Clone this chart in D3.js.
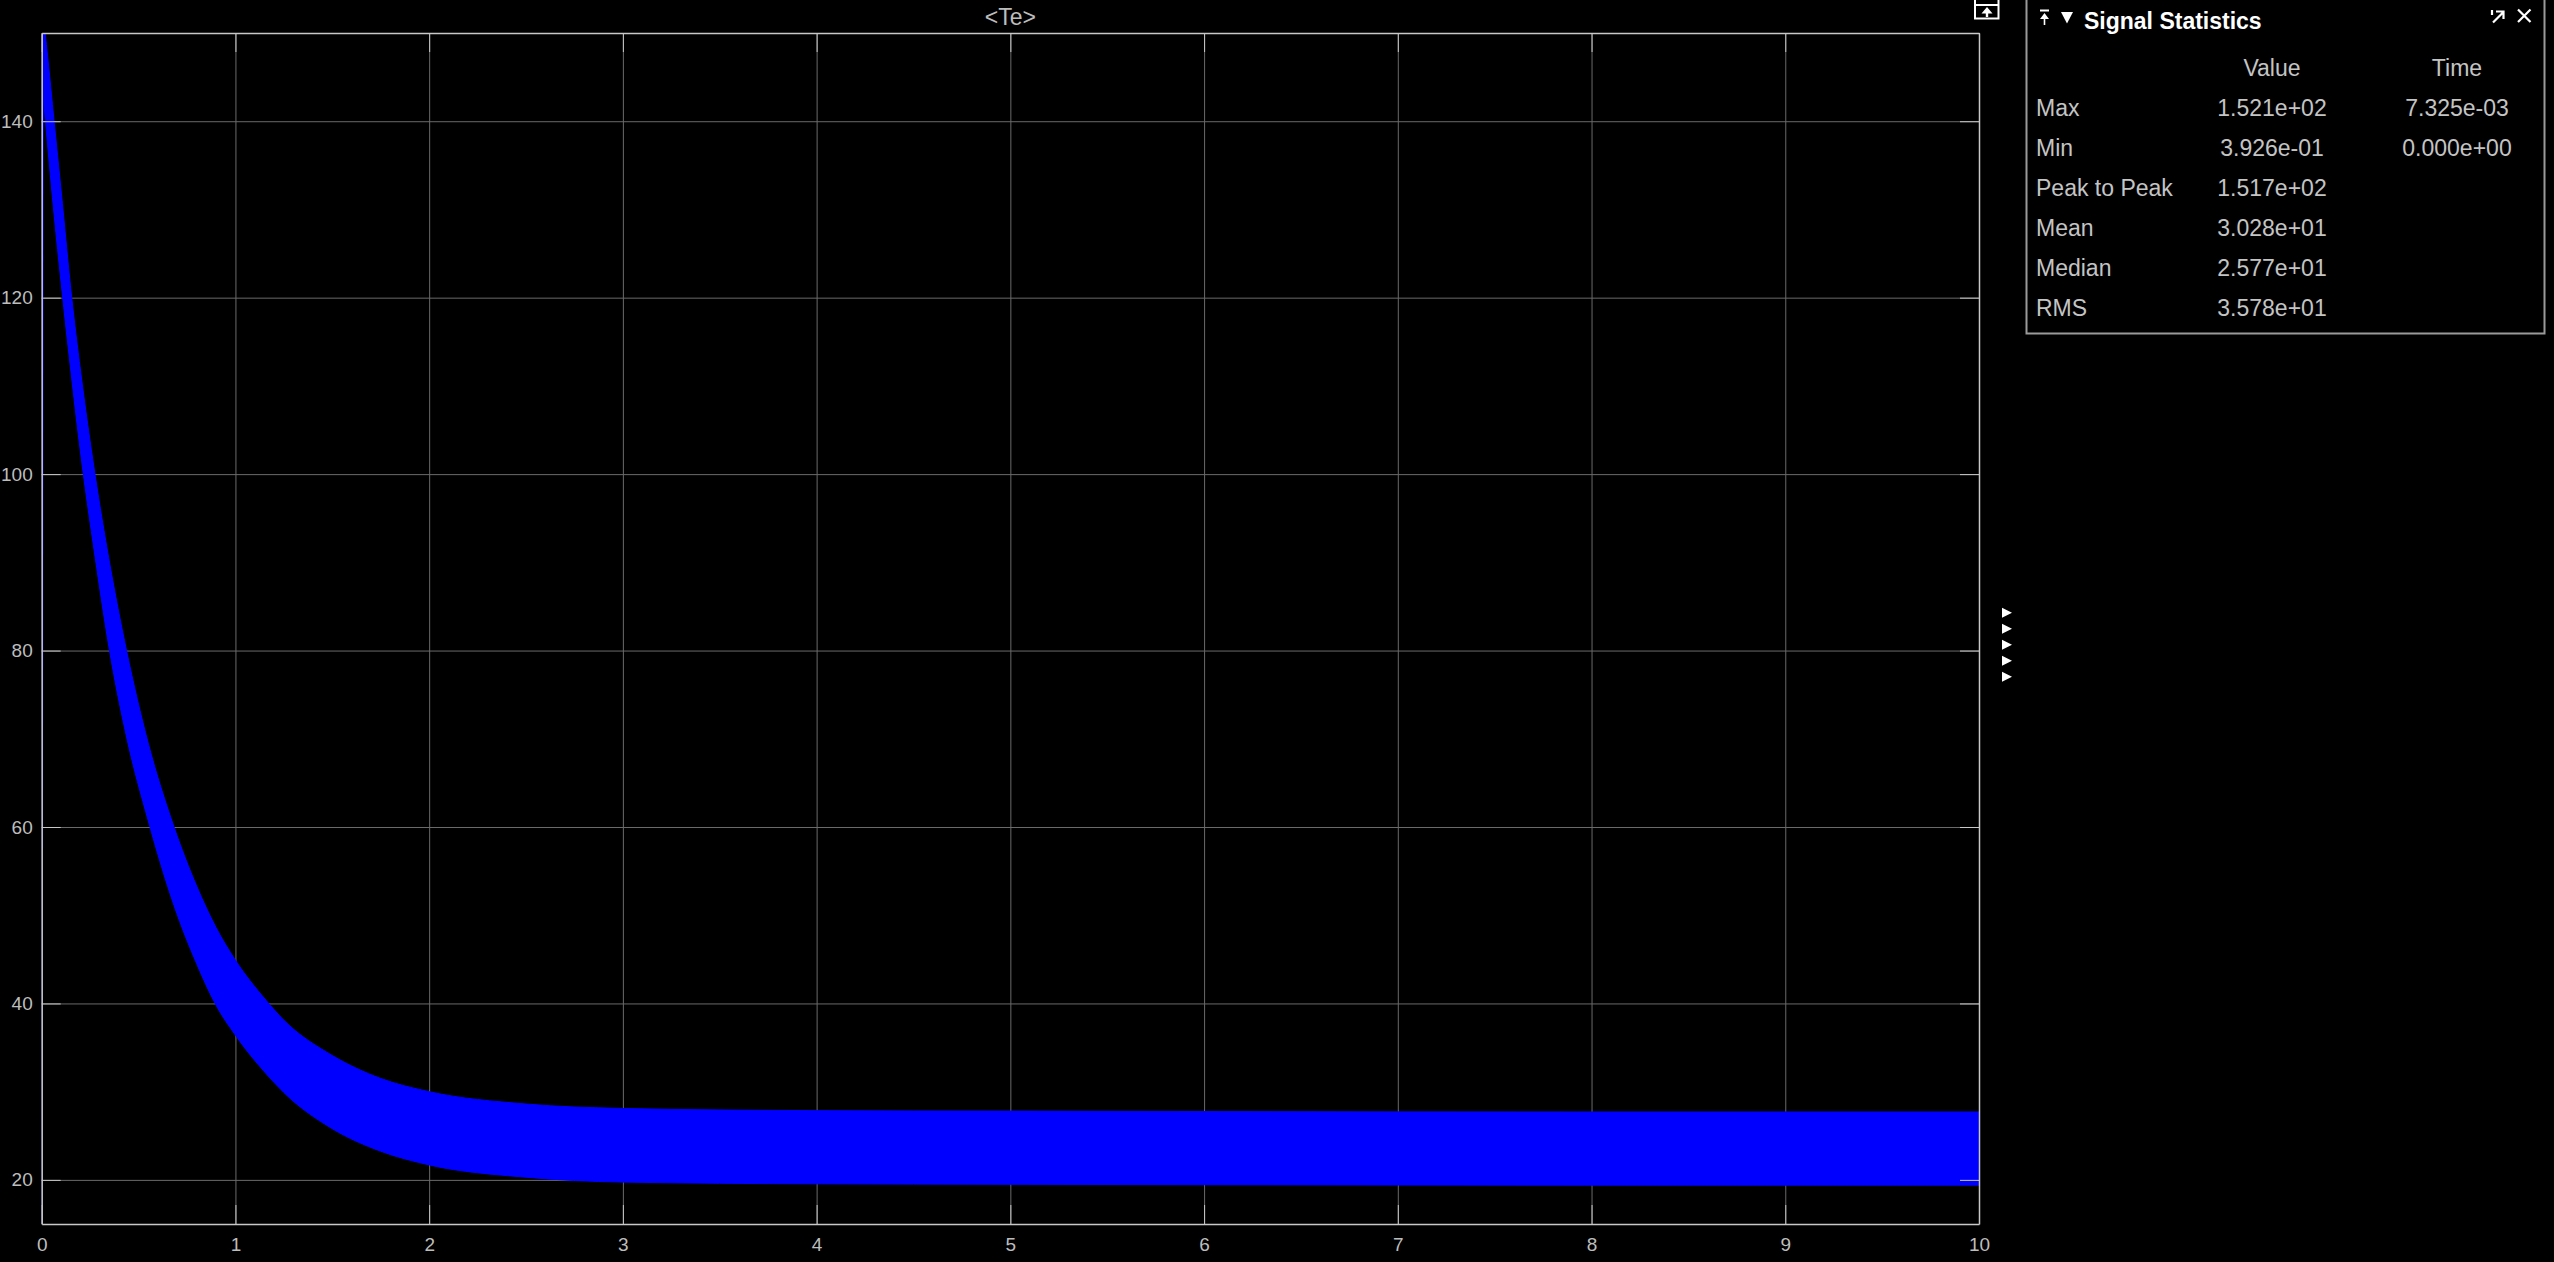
<!DOCTYPE html>
<html>
<head>
<meta charset="utf-8">
<script src="https://cdn.jsdelivr.net/npm/d3@7"></script>
<style>
  body { margin: 0; background: #000; }
  svg { display: block; }
  text { font-family: "Liberation Sans", Arial, sans-serif; }
</style>
</head>
<body>
<div id="scope"></div>
<script>
// Envelope of the <Te> signal
var times    = [0.007, 0.03, 0.064, 0.1, 0.155, 0.2, 0.275, 0.35, 0.438, 0.55, 0.683, 0.8, 0.9, 1.0, 1.16, 1.25, 1.5, 1.75, 2.0, 2.5, 3.0, 4.0, 5.0, 6.0, 8.0, 10.0];
var upperEnv = [152.1, 147.5, 140, 132.2, 120, 111.8, 100, 90, 80, 69.5, 60, 53.3, 48.6, 44.9, 40.3, 38.1, 34.1, 31.5, 30.0, 28.6, 28.1, 27.85, 27.8, 27.75, 27.7, 27.7];
var lowerEnv = [143, 137.4, 129.4, 121.7, 110.8, 102.5, 90.7, 80, 70.2, 60.7, 51.1, 44.5, 39.8, 36.4, 32.0, 29.9, 25.8, 23.25, 21.7, 20.3, 19.75, 19.55, 19.5, 19.45, 19.4, 19.4];

// initial step (t = 0 -> time of max)
var startTimes = [0, 0.007325];
var startValues = [0.3926, 152.1];

var xTicks = [0, 1, 2, 3, 4, 5, 6, 7, 8, 9, 10];
var yTicks = [20, 40, 60, 80, 100, 120, 140];
var xDomain = [0, 10];
var yDomain = [15, 150];

// Signal statistics panel
var statNames = ["Max", "Min", "Peak to Peak", "Mean", "Median", "RMS"];
var statValues = ["1.521e+02", "3.926e-01", "1.517e+02", "3.028e+01", "2.577e+01", "3.578e+01"];
var statTimes = ["7.325e-03", "0.000e+00", "", "", "", ""];

var W = 2554, H = 1262;
var margin = { top: 33, right: 575, bottom: 38, left: 41.7 },
    width = W - margin.left - margin.right,
    height = H - margin.top - margin.bottom;

var x = d3.scaleLinear().domain(xDomain).range([0, width]);
var y = d3.scaleLinear().domain(yDomain).range([height, 0]);

var svgRoot = d3.select("#scope")
    .append("svg")
    .attr("width", W)
    .attr("height", H)
    .style("background", "#000");

var svg = svgRoot.append("g")
    .attr("transform", "translate(" + margin.left + "," + margin.top + ")");

svgRoot.append("defs").append("clipPath")
    .attr("id", "plotclip")
    .append("rect")
    .attr("x", 0).attr("y", 0)
    .attr("width", width).attr("height", height);

// grid
svg.append("g")
    .attr("class", "grid")
    .call(d3.axisBottom(x).tickValues(xTicks).tickSize(height).tickFormat(""))
    .call(function (g) {
        g.select(".domain").remove();
        g.selectAll("line").attr("stroke", "#6a6a6a").attr("stroke-width", 1);
    });
svg.append("g")
    .attr("class", "grid")
    .call(d3.axisLeft(y).tickValues(yTicks).tickSize(-width).tickFormat(""))
    .call(function (g) {
        g.select(".domain").remove();
        g.selectAll("line").attr("stroke", "#6a6a6a").attr("stroke-width", 1);
    });

// signal
var plot = svg.append("g").attr("clip-path", "url(#plotclip)");

var band = d3.area()
    .x(function (d) { return x(d.t); })
    .y0(function (d) { return y(d.lo); })
    .y1(function (d) { return y(d.hi); })
    .curve(d3.curveMonotoneX);

var bandData = times.map(function (t, i) {
    return { t: t, hi: upperEnv[i], lo: lowerEnv[i] };
});

plot.append("path")
    .datum(startTimes.map(function (t, i) { return { t: t, v: startValues[i] }; }))
    .attr("fill", "none")
    .attr("stroke", "#0000e6")
    .attr("stroke-width", 1.6)
    .attr("d", d3.line()
        .x(function (d) { return x(d.t); })
        .y(function (d) { return y(d.v); }));

plot.append("path")
    .datum(bandData)
    .attr("fill", "#0000ff")
    .attr("stroke", "#0000ff")
    .attr("stroke-width", 1)
    .attr("d", band);

// axes with inward ticks on all four sides
var axisColor = "#c8c8c8", labelColor = "#bdbdbd";
function styleAxis(g) {
    g.select(".domain").attr("stroke", axisColor).attr("stroke-width", 1.5);
    g.selectAll(".tick line").attr("stroke", axisColor).attr("stroke-width", 1);
    g.selectAll("text")
        .attr("fill", labelColor)
        .style("font-size", "19px")
        .style("font-family", "'Liberation Sans', Arial, sans-serif");
}

svg.append("g")
    .attr("transform", "translate(0," + height + ")")
    .call(d3.axisBottom(x).tickValues(xTicks).tickSizeInner(-19).tickSizeOuter(0).tickPadding(14).tickFormat(d3.format("d")))
    .call(styleAxis);
svg.append("g")
    .call(d3.axisTop(x).tickValues(xTicks).tickSizeInner(-19).tickSizeOuter(0).tickFormat(""))
    .call(styleAxis);
svg.append("g")
    .call(d3.axisLeft(y).tickValues(yTicks).tickSizeInner(-19).tickSizeOuter(0).tickPadding(9).tickFormat(d3.format("d")))
    .call(styleAxis);
svg.append("g")
    .attr("transform", "translate(" + width + ",0)")
    .call(d3.axisRight(y).tickValues(yTicks).tickSizeInner(-19).tickSizeOuter(0).tickFormat(""))
    .call(styleAxis);

// title
svg.append("text")
    .attr("x", width / 2)
    .attr("y", -8)
    .attr("text-anchor", "middle")
    .attr("fill", labelColor)
    .style("font-size", "23px")
    .text("<Te>");

// small toolbar icon above the top-right corner
var icon = svgRoot.append("g").attr("fill", "none").attr("stroke", "#fff").attr("stroke-width", 2);
icon.append("rect").attr("x", 1975).attr("y", -2).attr("width", 23.5).attr("height", 20.5);
icon.append("line").attr("x1", 1975).attr("x2", 1998.5).attr("y1", 5).attr("y2", 5);
svgRoot.append("path")
    .attr("d", "M1987,7 L1981.5,13.5 L1985.8,13.5 L1985.8,17 L1988.2,17 L1988.2,13.5 L1992.5,13.5 Z")
    .attr("fill", "#fff");

// collapsed-panel arrows on the right edge
var arrowY = [612.7, 628.7, 644.7, 660.7, 676.7];
svgRoot.selectAll("path.collapse")
    .data(arrowY)
    .enter().append("path")
    .attr("class", "collapse")
    .attr("fill", "#fff")
    .attr("d", function (cy) {
        return "M2002," + (cy - 5) + " L2012," + cy + " L2002," + (cy + 5) + " Z";
    });

// Signal Statistics panel
var panel = svgRoot.append("g");
panel.append("rect")
    .attr("x", 2026.5).attr("y", -4)
    .attr("width", 518).attr("height", 337.5)
    .attr("fill", "#000")
    .attr("stroke", "#9a9a9a")
    .attr("stroke-width", 2);

// pin + collapse glyphs
panel.append("line").attr("x1", 2040).attr("x2", 2049).attr("y1", 10.5).attr("y2", 10.5)
    .attr("stroke", "#fff").attr("stroke-width", 2);
panel.append("path").attr("fill", "#fff")
    .attr("d", "M2044.5,13 L2040,19 L2043.7,19 L2043.7,25 L2045.3,25 L2045.3,19 L2049,19 Z");
panel.append("path").attr("fill", "#fff")
    .attr("d", "M2061,12 L2073,12 L2067,23.5 Z");

panel.append("text")
    .attr("x", 2084).attr("y", 29)
    .attr("fill", "#fff")
    .style("font-size", "23px")
    .style("font-weight", "bold")
    .text("Signal Statistics");

// undock + close glyphs
var glyph = panel.append("g").attr("stroke", "#fff").attr("fill", "none").attr("stroke-width", 2.2);
glyph.append("path").attr("d", "M2493,22.5 L2503,12.5 M2496,11.5 L2503.5,11.5 L2503.5,19");
glyph.append("path").attr("d", "M2492,10 L2492,15");
glyph.append("path").attr("d", "M2518,9.5 L2530.5,22 M2530.5,9.5 L2518,22");

var colValue = 2272, colTime = 2457, colName = 2036;
var tableColor = "#c4c4c4";

panel.append("text").attr("x", colValue).attr("y", 76)
    .attr("text-anchor", "middle").attr("fill", tableColor)
    .style("font-size", "23px").text("Value");
panel.append("text").attr("x", colTime).attr("y", 76)
    .attr("text-anchor", "middle").attr("fill", tableColor)
    .style("font-size", "23px").text("Time");

var rowY = d3.scaleLinear().domain([0, 1]).range([116, 156]);

statNames.forEach(function (name, i) {
    panel.append("text").attr("x", colName).attr("y", rowY(i))
        .attr("fill", tableColor).style("font-size", "23px").text(name);
    panel.append("text").attr("x", colValue).attr("y", rowY(i))
        .attr("text-anchor", "middle").attr("fill", tableColor)
        .style("font-size", "23px").text(statValues[i]);
    if (statTimes[i]) {
        panel.append("text").attr("x", colTime).attr("y", rowY(i))
            .attr("text-anchor", "middle").attr("fill", tableColor)
            .style("font-size", "23px").text(statTimes[i]);
    }
});
</script>
</body>
</html>
